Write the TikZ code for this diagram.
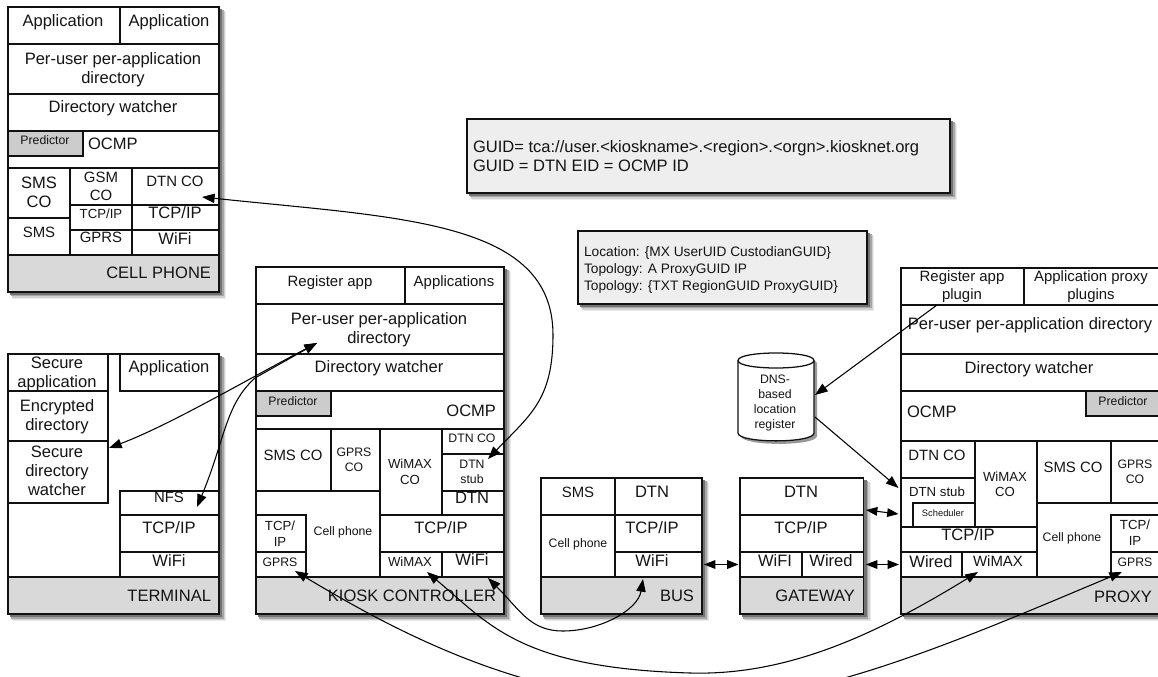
\documentclass[tikz,border=0pt]{standalone}
\usepackage{fontspec}
\setmainfont{Liberation Sans}
\usetikzlibrary{arrows.meta,calc}
\newcommand{\fa}{\fontsize{12.4}{14.25}\selectfont}
\newcommand{\fb}{\fontsize{11.2}{13.5}\selectfont}
\newcommand{\fc}{\fontsize{9.9}{11.6}\selectfont}
\newcommand{\fd}{\fontsize{9.2}{11.25}\selectfont}
\newcommand{\fe}{\fontsize{7}{8.5}\selectfont}
\newcommand{\ff}{\fontsize{10.3}{12.75}\selectfont}
\definecolor{bargray}{HTML}{D9D9D9}
\definecolor{predgray}{HTML}{CCCCCC}
\definecolor{notegray}{HTML}{EEEEEE}
\definecolor{linecol}{HTML}{111111}
\tikzset{
  x=.75pt,y=-.75pt,
  cellbox/.style={draw=linecol,line width=.95pt,fill=white,rectangle,inner sep=0pt,outer sep=0pt},
  bar/.style={fill=bargray},
  pred/.style={fill=predgray},
  note/.style={fill=notegray},
  txt/.style={inner sep=0pt,outer sep=0pt,align=center,text=black!92,yshift=-1.4pt},
  arr/.style={line width=.8pt,draw=black,-{Triangle[length=9.5pt,width=7pt]}},
  darr/.style={line width=.8pt,draw=black,{Triangle[length=9.5pt,width=7pt]}-{Triangle[length=9.5pt,width=7pt]}},
  sarr/.style={line width=.8pt,draw=black,{Triangle[length=8.5pt,width=6.5pt]}-{Triangle[length=8.5pt,width=6.5pt]}},
}
% cell: name, x1, y1, x2, y2
\newcommand{\cl}[6][]{\node[cellbox,minimum width={(#5-#3)*.75pt},minimum height={(#6-#4)*.75pt},#1] (#2) at ({(#3+#5)/2},{(#4+#6)/2}) {};}
% text: name, x, y, font, text
\newcommand{\tx}[6][]{\node[txt,font=#5,#1] (#2-t) at (#3,#4) {\strut #6\strut};}
% soft shadow behind a frame
\newcommand{\shd}[4]{%
  \fill[black!8] (#1+5,#2+5) rectangle (#3+7,#4+7);
  \fill[black!18] (#1+4,#2+4) rectangle (#3+6,#4+6);
  \fill[black!35] (#1+3,#2+3) rectangle (#3+4.5,#4+4.5);
  \fill[black!55] (#1+2,#2+2) rectangle (#3+3,#4+3);}
\begin{document}
\begin{tikzpicture}
\useasboundingbox (0,0) rectangle (1158,677);
\clip (0,0) rectangle (1158,677);
\fill[white] (0,0) rectangle (1158,677);

%% notes
\shd{467}{119}{950}{193}
\cl[note]{guid}{467}{119}{950}{193}
\tx[anchor=west,align=left]{guid}{473}{156}{\fa}{GUID= tca://user.<kioskname>.<region>.<orgn>.kiosknet.org\\GUID = DTN EID = OCMP ID}
\shd{578}{231}{867}{304}
\cl[note]{loc}{578}{231}{867}{304}
\tx[anchor=west,align=left]{loc}{584}{268}{\ff}{Location: \{MX UserUID CustodianGUID\}\\Topology: A ProxyGUID IP\\Topology: \{TXT RegionGUID ProxyGUID\}}

%% CELL PHONE
\shd{8}{7}{219}{292}
\cl{cp}{8}{7}{219}{292}
\cl{cp-app1}{8}{7}{120}{44}
\tx{cp-app1}{63}{20.5}{\fa}{Application}
\cl{cp-app2}{120}{7}{219}{44}
\tx{cp-app2}{169}{20.5}{\fa}{Application}
\cl{cp-peruser}{8}{44}{219}{94}
\tx{cp-peruser}{113}{68.5}{\fa}{Per-user per-application\\directory}
\cl{cp-watch}{8}{94}{219}{131}
\tx{cp-watch}{113}{107}{\fa}{Directory watcher}
\cl{cp-ocmp}{8}{131}{219}{168}
\tx[anchor=west]{cp-ocmp}{88}{144}{\fa}{OCMP}
\cl[pred]{cp-pred}{8}{131}{83}{156}
\tx{cp-pred}{45}{140}{\fd}{Predictor}
\cl{cp-smsco}{8}{168}{70}{218}
\tx{cp-smsco}{39}{192.5}{\fa}{SMS\\CO}
\cl{cp-sms}{8}{218}{70}{255}
\tx{cp-sms}{39}{232}{\fb}{SMS}
\cl{cp-gsmco}{70}{168}{132}{205}
\tx{cp-gsmco}{101}{186}{\fb}{GSM\\CO}
\cl{cp-tcp1}{70}{205}{132}{230}
\tx{cp-tcp1}{101}{214}{\fc}{TCP/IP}
\cl{cp-gprs}{70}{230}{132}{255}
\tx{cp-gprs}{101}{237}{\fb}{GPRS}
\cl{cp-dtnco}{132}{168}{219}{205}
\tx{cp-dtnco}{175}{181}{\fb}{DTN CO}
\cl{cp-tcp2}{132}{205}{219}{230}
\tx{cp-tcp2}{175}{213}{\fa}{TCP/IP}
\cl{cp-wifi}{132}{230}{219}{255}
\tx{cp-wifi}{175}{239}{\fa}{WiFi}
\cl[bar]{cp-bar}{8}{255}{219}{292}
\tx[anchor=east]{cp-bar}{211}{273}{\fa}{CELL PHONE}

%% TERMINAL
\shd{8}{354}{219}{614}
\cl{tm}{8}{354}{219}{614}
\cl{tm-sapp}{8}{354}{108}{391}
\tx{tm-sapp}{57}{372}{\fa}{Secure\\application}
\cl{tm-enc}{8}{391}{108}{441}
\tx{tm-enc}{57}{415.5}{\fa}{Encrypted\\directory}
\cl{tm-watch}{8}{441}{108}{503}
\tx{tm-watch}{57}{470.5}{\fa}{Secure\\directory\\watcher}
\cl{tm-app}{120}{354}{219}{391}
\tx{tm-app}{169}{367}{\fa}{Application}
\cl{tm-nfs}{120}{491}{219}{515}
\tx{tm-nfs}{169}{497}{\fb}{NFS}
\cl{tm-tcp}{120}{515}{219}{552}
\tx{tm-tcp}{169}{528}{\fa}{TCP/IP}
\cl{tm-wifi}{120}{552}{219}{577}
\tx{tm-wifi}{169}{561}{\fa}{WiFi}
\cl[bar]{tm-bar}{8}{577}{219}{614}
\tx[anchor=east]{tm-bar}{211}{596}{\fa}{TERMINAL}

%% KIOSK CONTROLLER
\shd{256}{267}{504}{614}
\cl{ks}{256}{267}{504}{614}
\cl{ks-reg}{256}{267}{405}{304}
\tx{ks-reg}{330}{281}{\fb}{Register app}
\cl{ks-apps}{405}{267}{504}{304}
\tx{ks-apps}{454}{281}{\fb}{Applications}
\cl{ks-peruser}{256}{304}{504}{354}
\tx{ks-peruser}{379}{328.5}{\fa}{Per-user per-application\\directory}
\cl{ks-watch}{256}{354}{504}{391}
\tx{ks-watch}{379}{367}{\fa}{Directory watcher}
\cl{ks-ocmp}{256}{391}{504}{429}
\tx[anchor=east]{ks-ocmp}{496}{411}{\fa}{OCMP}
\cl[pred]{ks-pred}{256}{391}{331}{416}
\tx{ks-pred}{293}{401}{\fd}{Predictor}
\cl{ks-smsco}{256}{429}{331}{491}
\tx{ks-smsco}{293}{455}{\fb}{SMS CO}
\cl{ks-gprsco}{331}{429}{380}{491}
\tx{ks-gprsco}{354}{459.5}{\fd}{GPRS\\CO}
\cl{ks-wimaxco}{380}{429}{442}{515}
\tx{ks-wimaxco}{410}{471.5}{\fc}{WiMAX\\CO}
\cl{ks-dtnco}{442}{429}{504}{454}
\tx{ks-dtnco}{472}{438}{\fd}{DTN CO}
\cl{ks-stub}{442}{454}{504}{491}
\tx{ks-stub}{472}{471.5}{\fd}{DTN\\stub}
\cl{ks-dtn}{442}{491}{504}{515}
\tx{ks-dtn}{472}{498}{\fa}{DTN}
\cl{ks-cell}{256}{491}{380}{577}
\tx{ks-cell}{343}{531}{\fd}{Cell phone}
\cl{ks-ctcp}{256}{515}{306}{552}
\tx{ks-ctcp}{280}{533.5}{\fc}{TCP/\\IP}
\cl{ks-gprs}{256}{552}{306}{577}
\tx{ks-gprs}{280}{562}{\fd}{GPRS}
\cl{ks-tcp}{380}{515}{504}{552}
\tx{ks-tcp}{441}{528}{\fa}{TCP/IP}
\cl{ks-wimax}{380}{552}{442}{577}
\tx{ks-wimax}{410}{562}{\fc}{WiMAX}
\cl{ks-wifi}{442}{552}{504}{577}
\tx{ks-wifi}{472}{560}{\fa}{WiFi}
\cl[bar]{ks-bar}{256}{577}{504}{614}
\tx[anchor=east]{ks-bar}{496}{596}{\fa}{KIOSK CONTROLLER}

%% BUS
\shd{541}{478}{702}{614}
\cl{bs}{541}{478}{702}{614}
\cl{bs-sms}{541}{478}{615}{515}
\tx{bs-sms}{578}{492}{\fb}{SMS}
\cl{bs-dtn}{615}{478}{702}{515}
\tx{bs-dtn}{652}{492}{\fa}{DTN}
\cl{bs-cell}{541}{515}{615}{577}
\tx{bs-cell}{578}{543}{\fd}{Cell phone}
\cl{bs-tcp}{615}{515}{702}{552}
\tx{bs-tcp}{652}{528}{\fa}{TCP/IP}
\cl{bs-wifi}{615}{552}{702}{577}
\tx{bs-wifi}{652}{561}{\fa}{WiFi}
\cl[bar]{bs-bar}{541}{577}{702}{614}
\tx[anchor=east]{bs-bar}{694}{596}{\fa}{BUS}

%% GATEWAY
\shd{740}{478}{863.5}{614}
\cl{gw}{740}{478}{863.5}{614}
\cl{gw-dtn}{740}{478}{863.5}{515}
\tx{gw-dtn}{801}{492}{\fa}{DTN}
\cl{gw-tcp}{740}{515}{863.5}{552}
\tx{gw-tcp}{801}{528}{\fa}{TCP/IP}
\cl{gw-wifi}{740}{552}{802}{577}
\tx{gw-wifi}{775}{561}{\fa}{WiFI}
\cl{gw-wired}{802}{552}{863.5}{577}
\tx{gw-wired}{831}{561}{\fa}{Wired}
\cl[bar]{gw-bar}{740}{577}{863.5}{614}
\tx[anchor=east]{gw-bar}{855}{596}{\fa}{GATEWAY}

%% PROXY
\shd{901}{268}{1170}{614}
\cl{px}{901}{268}{1170}{614}
\cl{px-reg}{901}{268}{1024}{305}
\tx{px-reg}{962}{285}{\fb}{Register app\\plugin}
\cl{px-apps}{1024}{268}{1170}{305}
\tx{px-apps}{1091}{285}{\fb}{Application proxy\\plugins}
\cl{px-peruser}{901}{305}{1170}{354}
\tx{px-peruser}{1030}{324}{\fa}{Per-user per-application directory}
\cl{px-watch}{901}{354}{1170}{391}
\tx{px-watch}{1029}{368}{\fa}{Directory watcher}
\cl{px-ocmp}{901}{391}{1170}{441}
\tx[anchor=west]{px-ocmp}{907}{412}{\fa}{OCMP}
\cl[pred]{px-pred}{1086}{391}{1170}{416}
\tx{px-pred}{1123}{401}{\fd}{Predictor}
\cl{px-dtnco}{901}{441}{975}{478}
\tx{px-dtnco}{937}{455}{\fb}{DTN CO}
\cl{px-stub}{901}{478}{975}{527}
\tx{px-stub}{937}{492}{\fc}{DTN stub}
\cl{px-sched}{913}{503}{975}{527}
\tx{px-sched}{943}{512}{\fe}{Scheduler}
\cl{px-wimaxco}{975}{441}{1037}{527}
\tx{px-wimaxco}{1005}{484}{\fc}{WiMAX\\CO}
\cl{px-smsco}{1037}{441}{1111}{503}
\tx{px-smsco}{1073}{467}{\fb}{SMS CO}
\cl{px-gprsco}{1111}{441}{1170}{503}
\tx{px-gprsco}{1135}{471.5}{\fd}{GPRS\\CO}
\cl{px-cell}{1037}{503}{1170}{577}
\tx{px-cell}{1072}{537}{\fd}{Cell phone}
\cl{px-ctcp}{1111}{515}{1170}{552}
\tx{px-ctcp}{1135}{532.5}{\fc}{TCP/\\IP}
\cl{px-gprs}{1111}{552}{1170}{577}
\tx{px-gprs}{1135}{562}{\fd}{GPRS}
\cl{px-tcp}{901}{527}{1037}{552}
\tx{px-tcp}{968}{535}{\fa}{TCP/IP}
\cl{px-wired}{901}{552}{962}{577}
\tx{px-wired}{931}{562}{\fa}{Wired}
\cl{px-wimax}{962}{552}{1037}{577}
\tx{px-wimax}{998}{561}{\fb}{WiMAX}
\cl[bar]{px-bar}{901}{577}{1170}{614}
\tx[anchor=east]{px-bar}{1152}{597}{\fa}{PROXY}

%% DNS register (named holder, outline drawn as a cylinder)
\node[inner sep=0pt,outer sep=0pt,minimum width={76*.75pt},minimum height={88*.75pt}] (dns) at (776,397) {};
\fill[black!40] (741,363.5) .. controls (741,353) and (817,353) .. (817,363.5) -- (817,436) .. controls (817,446.5) and (741,446.5) .. (741,436) -- cycle;
\draw[draw=linecol,line width=.95pt,fill=white] (738,360.5) .. controls (738,350.5) and (814,350.5) .. (814,360.5) -- (814,433) .. controls (814,443.5) and (738,443.5) .. (738,433) -- cycle;
\draw[draw=linecol,line width=.95pt] (738,360.5) .. controls (738,370.5) and (814,370.5) .. (814,360.5);
\tx{dns}{775}{401.5}{\fd}{DNS-\\based\\location\\register}

%% connector ends
\coordinate (e-cpdtn) at ($(cp-dtnco.center)+(26.5,10.5)$);
\coordinate (e-stub) at ($(ks-stub.center)+(15,-13.5)$);
\coordinate (e-watch) at ($(tm-watch.east)+(1,-24)$);
\coordinate (e-per1) at ($(ks-peruser.center)+(-63,14)$);
\coordinate (e-nfs) at ($(tm-nfs.center)+(27.5,4)$);
\coordinate (e-kwifi) at ($(ks-wifi.center)+(15,13.5)$);
\coordinate (e-bwifi) at ($(bs-wifi.center)+(-15.5,14.5)$);
\coordinate (e-kwimax) at ($(ks-wimax.center)+(16,7.5)$);
\coordinate (e-pwimax) at ($(px-wimax.center)+(-21.5,7.5)$);
\coordinate (e-kgprs) at ($(ks-gprs.center)+(14,6.5)$);
\coordinate (e-pgprs) at ($(px-gprs.west)+(11,7.5)$);
\coordinate (e-reg) at ($(px-reg.center)+(-25.5,18.5)$);
\coordinate (e-dnsa) at ($(dns.center)+(39,-2)$);
\coordinate (e-dnsb) at ($(dns.center)+(39,20)$);
\coordinate (e-pstub) at ($(px-stub.west)+(-2.5,-14.5)$);
\coordinate (e-gwu) at ($(gw-dtn.east)+(2.5,13.5)$);
\coordinate (e-pxu) at ($(px-stub.west)+(-2.5,11.5)$);
\coordinate (e-gwl) at ($(gw-wired.east)+(2.5,0)$);
\coordinate (e-pxl) at ($(px-wired.west)+(-2,0)$);
\coordinate (e-bsr) at ($(bs-wifi.east)+(2,0)$);
\coordinate (e-gwr) at ($(gw-wifi.west)+(-1.5,0)$);

%% connectors
\draw[darr] (e-cpdtn) .. controls (400,218) and (553,220) .. (553,335)
  .. controls (553,400) and (530,415) .. (e-stub);
\draw[darr] (e-watch) .. controls (170,425) and (250,378) .. (e-per1);
\draw[darr] (e-nfs) .. controls (225,440) and (225,405) .. (255,378) -- (e-per1);
\draw[darr] (e-kwifi) .. controls (520,610) and (530,631) .. (563,631)
  .. controls (600,631) and (638,610) .. (e-bwifi);
\draw[darr] (e-kwimax) .. controls (490,625) and (520,668) .. (690,673)
  .. controls (790,676) and (880,632) .. (e-pwimax);
\draw[darr] (e-kgprs) .. controls (390,628) and (520,700) .. (680,703)
  .. controls (810,706) and (960,640) .. (e-pgprs);
\draw[arr] (e-reg) -- (e-dnsa);
\draw[arr] (e-dnsb) -- (e-pstub);
\draw[sarr] (e-gwu) -- (e-pxu);
\draw[sarr] (e-gwl) -- (e-pxl);
\draw[sarr] (e-bsr) -- (e-gwr);
\end{tikzpicture}
\end{document}
